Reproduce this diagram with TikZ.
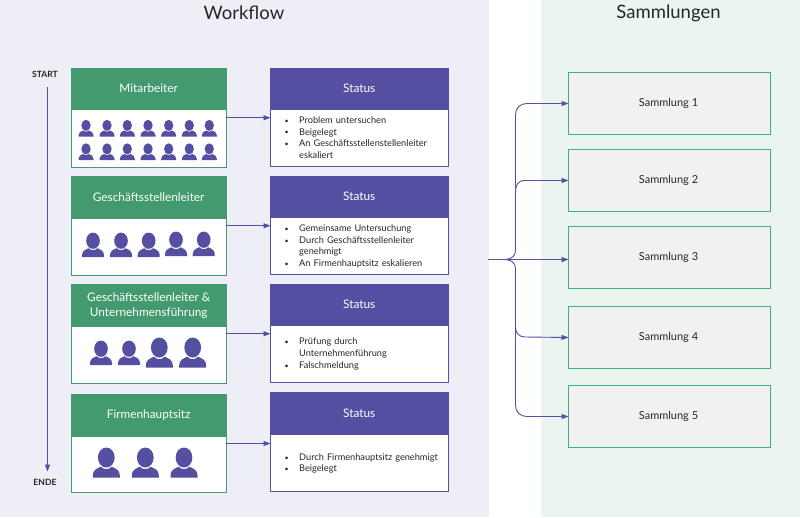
\documentclass[tikz,border=0pt]{standalone}
\usepackage{fontspec}
\setmainfont{Lato}
\usetikzlibrary{arrows.meta,calc}
\definecolor{wfbg}{HTML}{EEEEF7}
\definecolor{sambg}{HTML}{EBF5F0}
\definecolor{grn}{HTML}{429A6E}
\definecolor{pur}{HTML}{544FA0}
\definecolor{samfill}{HTML}{F1F1F1}
\definecolor{samline}{HTML}{3DB57C}
\definecolor{ink}{HTML}{262626}
\newcommand{\person}[3]{%
  \fill[pur,shift={(#1,#2)},x=#3pt,y=#3pt]
    (-.5,0) -- (-.5,.08) .. controls (-.5,.27) and (-.36,.33) .. (-.2,.4)
    .. controls (-.1,.28) and (.1,.28) .. (.2,.4)
    .. controls (.36,.33) and (.5,.27) .. (.5,.08) -- (.5,0) -- cycle
    (0,.74) ellipse [x radius=.31,y radius=.37];%
}
\newcommand{\bitem}[1]{\hangindent=18pt\hangafter=1\noindent\hbox to 18pt{\hspace{3.5pt}\raisebox{.2pt}{\fontsize{7}{7}\selectfont •}\hss}#1\par}
\newcommand{\up}[1]{\raisebox{1pt}{#1}}
\newcommand{\samlabel}[1]{\hspace*{-2pt}\raisebox{1.5pt}{#1}}
\tikzset{
  x=1pt,y=-1pt,
  panelbox/.style={anchor=north west,inner sep=0,outer sep=0,draw=none},
  titletext/.style={font=\fontsize{18.5}{22}\selectfont,text=ink},
  whobox/.style={anchor=north west,draw=grn,line width=.9pt,fill=white,minimum width=154.5pt,inner sep=0,outer sep=0},
  whohead/.style={anchor=north west,fill=grn,text=white,minimum width=155.4pt,inner sep=0,outer sep=0,align=center,font=\fontsize{11.8}{14.7}\selectfont},
  statbox/.style={anchor=north west,draw=pur,line width=.9pt,fill=white,minimum width=177.5pt,inner sep=0,outer sep=0},
  stathead/.style={anchor=north west,fill=pur,text=white,minimum width=178.4pt,inner sep=0,outer sep=0,align=center,font=\fontsize{11.8}{14}\selectfont},
  listtext/.style={anchor=west,inner sep=0,text width=166pt,text=ink,font=\fontsize{9.2}{11.7}\selectfont},
  sambox/.style={anchor=north west,draw=samline,line width=.9pt,fill=samfill,minimum width=202pt,minimum height=62pt,inner sep=0,outer sep=0,text=ink,font=\fontsize{11}{12}\selectfont},
  conn/.style={draw=pur,line width=.9pt,-{Triangle[length=7pt,width=5pt]}},
  connplain/.style={draw=pur,line width=.9pt},
  steplabel/.style={text=ink,inner sep=0,font=\fontsize{8.6}{10}\bfseries\selectfont},
}
\begin{document}
\begin{tikzpicture}
\useasboundingbox (0,0) rectangle (800,517);
\fill[white] (0,0) rectangle (800,517);
\node[panelbox,fill=wfbg,minimum width=488.5pt,minimum height=517pt] (wf) at (0,0) {};
\node[panelbox,fill=sambg,minimum width=259pt,minimum height=517pt] (sp) at (541,0) {};
\node[titletext] (t1) at (244,13) {Workflow};
\node[titletext] (t2) at (668.5,13) {Sammlungen};

% timeline
\node[steplabel] (start) at (45,74) {START};
\node[steplabel] (ende) at (45,482) {ENDE};
\coordinate (tl1) at (47.5,87);
\coordinate (tl2) at (47.5,471.5);
\draw[conn] (tl1) -- (tl2);

% who boxes
\node[whobox,minimum height=98.5pt] (w1) at (71.5,68.5) {};
\node[whobox,minimum height=98.5pt] (w2) at (71.5,176.5) {};
\node[whobox,minimum height=98.5pt] (w3) at (71.5,284.5) {};
\node[whobox,minimum height=98pt] (w4) at (71.5,394.5) {};
\node[whohead,minimum height=42pt] (h1) at (71,68) {\up{Mitarbeiter}};
\node[whohead,minimum height=43pt] (h2) at (71,176) {\up{Geschäftsstellenleiter}};
\node[whohead,minimum height=43pt] (h3) at (71,284) {Geschäftsstellenleiter \&\\Unternehmensführung};
\node[whohead,minimum height=43pt] (h4) at (71,394) {\up{Firmenhauptsitz}};

% status boxes
\node[statbox,minimum height=98pt] (s1) at (270.5,68.5) {};
\node[statbox,minimum height=98pt] (s2) at (270.5,176.5) {};
\node[statbox,minimum height=98pt] (s3) at (270.5,284.5) {};
\node[statbox,minimum height=98.5pt] (s4) at (270.5,392.5) {};
\node[stathead,minimum height=42pt] (sh1) at (270,68) {\up{Status}};
\node[stathead,minimum height=42pt] (sh2) at (270,176) {\up{Status}};
\node[stathead,minimum height=42pt] (sh3) at (270,284) {\up{Status}};
\node[stathead,minimum height=43pt] (sh4) at (270,392) {\up{Status}};

\node[listtext] (l1) at (281,137.5) {\bitem{Problem untersuchen}\bitem{Beigelegt}\bitem{An Geschäftsstellenstellenleiter\newline eskaliert}};
\node[listtext] (l2) at (281,246.5) {\bitem{Gemeinsame Untersuchung}\bitem{Durch Geschäftsstellenleiter\newline genehmigt}\bitem{An Firmenhauptsitz eskalieren}};
\node[listtext] (l3) at (281,354) {\bitem{Prüfung durch\newline Unternehmenführung}\bitem{Falschmeldung}};
\node[listtext] (l4) at (281,463.5) {\bitem{Durch Firmenhauptsitz genehmigt}\bitem{Beigelegt}};

% people
\foreach \px in {86,107,127.3,148,168.7,189.3,209.3} {\person{\px}{136.5}{15}\person{\px}{160}{15}}
\foreach \px/\py in {93/257,121/257,148.7/257,176/256,203.7/256} {\person{\px}{\py}{22}}
\foreach \px in {101,129} {\person{\px}{365}{22}}
\foreach \px in {159.3,192.7} {\person{\px}{367.5}{27}}
\foreach \px in {106.3,145.3,184} {\person{\px}{477.5}{27}}

% connectors
\foreach \i in {1,2,3,4} {\draw[conn] (w\i.east) -- (w\i.east -| s\i.west);}

% Sammlungen
\node[sambox] (c1) at (568.5,72.5) {\samlabel{Sammlung 1}};
\node[sambox] (c2) at (568.5,149.5) {\samlabel{Sammlung 2}};
\node[sambox] (c3) at (568.5,226.5) {\samlabel{Sammlung 3}};
\node[sambox] (c4) at (568.5,306.5) {\samlabel{Sammlung 4}};
\node[sambox] (c5) at (568.5,385.5) {\samlabel{Sammlung 5}};

\coordinate (hub) at (488,259.5);
\coordinate (jn) at (506,259.5);
\draw[conn] (hub) -- (hub -| c3.west);
\draw[connplain] (jn) .. controls (512,258.5) and (515.5,256) .. (515.5,250) -- (515.5,115);
\draw[connplain] (jn) .. controls (512,260.5) and (515.5,263) .. (515.5,269) -- (515.5,405);
\draw[conn] (515.5,115) .. controls (515.5,108) and (520,103.5) .. (527,103.5) -- (c1.west);
\draw[conn] (515.5,192) .. controls (515.5,185) and (518,180.5) .. (525,180.5) -- (c2.west);
\draw[conn] (515.5,327) .. controls (515.5,333) and (519,337) .. (525,337) -- (c4.west);
\draw[conn] (515.5,405) .. controls (515.5,412) and (520,416.5) .. (527,416.5) -- (c5.west);
\end{tikzpicture}
\end{document}
